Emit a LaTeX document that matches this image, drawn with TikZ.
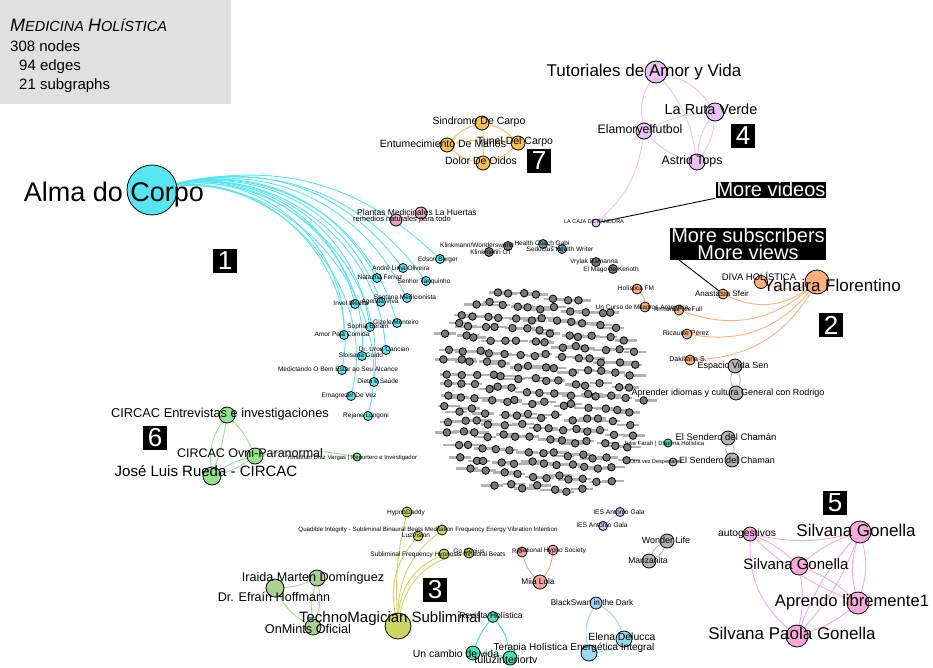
\documentclass[tikz,border=0pt]{standalone}
\usepackage{fontspec}
\setmainfont{Liberation Sans}
\usepackage{tikz}
\usetikzlibrary{calc}
\definecolor{cyanA}{HTML}{55E6F2}
\definecolor{salmonB}{HTML}{FFAF7A}
\definecolor{oliveC}{HTML}{CCD65E}
\definecolor{lilacD}{HTML}{EAC2F6}
\definecolor{pinkE}{HTML}{F9A8D9}
\definecolor{greenF}{HTML}{92E58E}
\definecolor{orangeG}{HTML}{F8BE4E}
\definecolor{mossH}{HTML}{A9D191}
\definecolor{redI}{HTML}{F2A0A0}
\definecolor{blueJ}{HTML}{9AD6F5}
\definecolor{tealK}{HTML}{46E2B6}
\definecolor{lavL}{HTML}{C9C3EE}
\definecolor{greyM}{HTML}{B4B4B4}
\definecolor{blobN}{HTML}{7A7A7A}
\definecolor{roseP}{HTML}{E6A6BE}
\definecolor{steelQ}{HTML}{5E98AE}
\pgfdeclarelayer{background}
\pgfdeclarelayer{foreground}
\pgfsetlayers{background,main,foreground}

\tikzset{
  vtx/.style={circle, draw=black, line width=0.8pt, inner sep=0pt, minimum size=#1},
  lbl/.style={inner sep=0pt, anchor=base, yshift={-0.36*#1}, font=\fontsize{#1}{#1}\selectfont},
  tag/.style={fill=black, text=white, inner sep=0pt, minimum width=24, minimum height=24, font=\fontsize{26}{26}\selectfont},
  note/.style={fill=black, text=white, inner xsep=1pt, inner ysep=0pt, align=center, font=\fontsize{20}{17}\selectfont},
  ed/.style={line width=0.9pt}
}

\begin{document}
\begin{tikzpicture}[x=1pt, y=-1pt]
    \useasboundingbox (0,0) rectangle (933,667);
    % LEGEND
    \fill[gray!24] (0,0) rectangle (231,104);
    \node[anchor=base west, inner sep=0pt, font=\itshape] (title) at (10,31) {\fontsize{18}{18}\selectfont M\fontsize{14.5}{14.5}\selectfont EDICINA \fontsize{18}{18}\selectfont H\fontsize{14.5}{14.5}\selectfont OLÍSTICA};
    \node[anchor=base west, inner sep=0pt, font=\fontsize{15}{15}\selectfont] (nnodes) at (10,51) {308 nodes};
    \node[anchor=base west, inner sep=0pt, font=\fontsize{15}{15}\selectfont] (nedges) at (19,70) {94 edges};
    \node[anchor=base west, inner sep=0pt, font=\fontsize{15}{15}\selectfont] (nsub) at (19,89) {21 subgraphs};

    % CENTRAL BLOB: LABEL SMUDGES
    \pgfmathsetseed{11}
    \foreach \r in {0,...,16}{
      \pgfmathsetmacro{\yy}{296+12*\r}
      \pgfmathsetmacro{\tt}{abs((\yy-392)/100)}
      \pgfmathsetmacro{\hw}{98*(max(0.01,1-\tt^3))^(1/3)}
      \pgfmathtruncatemacro{\nn}{2*\hw/14}
      \foreach \c in {0,...,\nn}{
        \pgfmathsetmacro{\xx}{543-\hw+14*\c+3*mod(\r,2)+4*rand}
        \pgfmathsetmacro{\yj}{\yy+2.5*rand+0.08*(\xx-543)}
        \pgfmathsetmacro{\ox}{5*rand}
        \fill[gray!60] (\xx+\ox-11,\yj-1.2) rectangle (\xx+\ox+11,\yj+1.2);
      }
    }
    % CENTRAL BLOB: NODES
    \pgfmathsetseed{11}
    \foreach \r in {0,...,16}{
      \pgfmathsetmacro{\yy}{296+12*\r}
      \pgfmathsetmacro{\tt}{abs((\yy-392)/100)}
      \pgfmathsetmacro{\hw}{98*(max(0.01,1-\tt^3))^(1/3)}
      \pgfmathtruncatemacro{\nn}{2*\hw/14}
      \foreach \c in {0,...,\nn}{
        \pgfmathsetmacro{\xx}{543-\hw+14*\c+3*mod(\r,2)+4*rand}
        \pgfmathsetmacro{\yj}{\yy+2.5*rand+0.08*(\xx-543)}
        \pgfmathsetmacro{\ox}{5*rand}
        \node[vtx=7.5, fill=blobN] (b\r-\c) at (\xx,\yj) {};
      }
    }

    % CLUSTER 1
    \foreach \n/\x/\y/\s/\lx/\ly/\f/\t in {
      alma/152/190/50/114/192/27/Alma do Corpo,
      edson/440/259/9/438/259/6.5/Edson Burger,
      andre/403/268/9/401/268/6.5/André Lima Oliveira,
      natasha/377/278/9/380/277/6.5/Natasha Ferraz,
      senhor/426/281/9/424/281/6.5/Senhor Tanquinho,
      santana/407/298/9/405/297/6.5/Santana Medicionista,
      invel/355/304/9/351/303/6.5/Invel Medita,
      agenda/381/302/9/380/301/6.5/Agenda Viva,
      gizele/397/323/9/396/322/6.5/Gizele Monteiro,
      sophia/370/327/9/368/326/6.5/Sophia Beram,
      amor/344/335/9/342/334/6.5/Amor Pela Comida,
      uron/386/350/9/384/349/6.5/Dr. Uron Cancian,
      sloisana/362/356/9/361/355/6.5/Sloisana Guido,
      medict/342/370/9/338/369/6.5/Medictando O Bem Estar ao Seu Alcance,
      dieta/374/382/9/378/381/6.5/Dieta e Saúde,
      emagrecer/351/396/9/349/395/6.5/Emagrecer De Vez,
      rejane/368/416/9/366/415/6.5/Rejane Longoni}{
      \node[vtx=\s, fill=cyanA] (\n) at (\x,\y) {};
      \begin{pgfonlayer}{foreground}
        \node[lbl=\f] (\n-l) at (\lx,\ly) {\t};
      \end{pgfonlayer}
    }
    % CLUSTER 2
    \foreach \n/\x/\y/\s/\lx/\ly/\f/\t in {
      yahaira/817/282/24/832/285/17/Yahaira Florentino,
      diva/761/282/13/759/277/9.5/DIVA HOLÍSTICA,
      anast/723/294/10/722/294/8/Anastasia Sfeir,
      armonia/679/310/10/678/309/6.5/ArmoniaFreeFull,
      curso/645/307/10/642/307/6.5/Un Curso de Milagros Argentina,
      holfm/637/289/10/636/288/6.5/Holística FM,
      ricaurte/687/334/10/686/333/7/Ricaurte Pérez,
      daki/690/360/10/688/359/7/Dakiliana S.}{
      \node[vtx=\s, fill=salmonB] (\n) at (\x,\y) {};
      \begin{pgfonlayer}{foreground}
        \node[lbl=\f] (\n-l) at (\lx,\ly) {\t};
      \end{pgfonlayer}
    }
    % CLUSTER 3
    \foreach \n/\x/\y/\s/\lx/\ly/\f/\t in {
      techno/398/626/26/390/617/15/TechnoMagician Subliminal,
      hypno/407/512/10/406/512/6.5/HypnoDaddy,
      quad/442/530/10/428/529/6.2/Quadible Integrity - Subliminal Binaural Beats Meditation Frequency Energy Vibration Intention,
      luz/418/536/10/416/535/6.5/LuzVision,
      sublim/444/554/10/438/554/6.5/Subliminal Frequency Hypnosis Binaural Beats,
      genius/469/553/10/469/551/6.5/Go Genius}{
      \node[vtx=\s, fill=oliveC] (\n) at (\x,\y) {};
      \begin{pgfonlayer}{foreground}
        \node[lbl=\f] (\n-l) at (\lx,\ly) {\t};
      \end{pgfonlayer}
    }
    % CLUSTER 4
    \foreach \n/\x/\y/\s/\lx/\ly/\f/\t in {
      tutor/656/72/22/644/70/17/Tutoriales de Amor y Vida,
      ruta/715/112/18/711/109/14.5/La Ruta Verde,
      elamor/644/131/16/640/129/12.3/Elamoryelfutbol,
      astrid/697/162/16/692/160/12.3/Astrid Tops,
      caja/596/223/8/594/222/5.5/LA CAJA DE PANDORA}{
      \node[vtx=\s, fill=lilacD] (\n) at (\x,\y) {};
      \begin{pgfonlayer}{foreground}
        \node[lbl=\f] (\n-l) at (\lx,\ly) {\t};
      \end{pgfonlayer}
    }
    % CLUSTER 5
    \foreach \n/\x/\y/\s/\lx/\ly/\f/\t in {
      autog/750/534/14/747/533/10.3/autogestivos,
      sg1/860/532/22/856/530/17/Silvana Gonella,
      sg2/799/566/18/796/564/15/Silvana Gonella,
      aprendo/858/603/22/852/601/16.6/Aprendo libremente1,
      spg/797/636/22/792/633/17/Silvana Paola Gonella}{
      \node[vtx=\s, fill=pinkE] (\n) at (\x,\y) {};
      \begin{pgfonlayer}{foreground}
        \node[lbl=\f] (\n-l) at (\lx,\ly) {\t};
      \end{pgfonlayer}
    }
    % CLUSTER 6
    \foreach \n/\x/\y/\s/\lx/\ly/\f/\t in {
      entrev/227/415/16/220/413/12.8/CIRCAC Entrevistas e investigaciones,
      ovni/255/456/16/250/453/12.5/CIRCAC Ovni-Paranormal,
      jose/212/476/18/206/471/15/José Luis Rueda - CIRCAC,
      yonathan/357/457/8/352/457/6/Yonathan Díaz Vargas | Reportero e Investigador}{
      \node[vtx=\s, fill=greenF] (\n) at (\x,\y) {};
      \begin{pgfonlayer}{foreground}
        \node[lbl=\f] (\n-l) at (\lx,\ly) {\t};
      \end{pgfonlayer}
    }
    % CLUSTER 7
    \foreach \n/\x/\y/\s/\lx/\ly/\f/\t in {
      sindrome/482/123/14/479/121/10.5/Sindrome De Carpo,
      tunel/518/143/14/515/141/10.5/Tunel Del Carpo,
      entum/447/145/14/443/144/10.5/Entumecimiento De Manos,
      dolor/483/163/14/481/161/10.5/Dolor De Oidos}{
      \node[vtx=\s, fill=orangeG] (\n) at (\x,\y) {};
      \begin{pgfonlayer}{foreground}
        \node[lbl=\f] (\n-l) at (\lx,\ly) {\t};
      \end{pgfonlayer}
    }
    % SMALL GROUPS
    \foreach \n/\x/\y/\s/\c/\lx/\ly/\f/\t in {
      iraida/317/578/16/mossH/313/577/12.6/Iraida Marten Domínguez,
      efrain/275/588/18/mossH/274/597/12.6/Dr. Efraín Hoffmann,
      onmints/313/627/16/mossH/308/629/12.7/OnMints Oficial,
      miia/540/582/14/redI/538/581/8.3/Miia Lola,
      rio/522/552/10/redI/517/551/6.5/Rio,
      natsoc/553/550/10/redI/552/550/6.5/National Hypno Society,
      ies1/620/512/9/lavL/619/512/6.7/IES Antonio Gala,
      ies2/603/526/9/lavL/602/525/6.7/IES Antonio Gala,
      swan/596/603/12/blueJ/592/603/8.2/BlackSwan in the Dark,
      elena/624/639/16/blueJ/622/637/10.4/Elena Delucca,
      terapia/589/653/16/blueJ/574/647/10/Terapia Holística Energética Integral,
      revista/493/617/11/tealK/491/615/8.5/Revista Holística,
      cambio/473/653/14/tealK/456/654/10.4/Un cambio de vida,
      tuluz/510/658/14/tealK/506/660/10.6/tuluzinteriortv,
      julia/668/443/8/tealK/664/443/6/Julia Farah | Dharma Holística,
      plantas/421/213/12/roseP/417/212/8.5/Plantas Medicinales La Huertas,
      remedios/396/220/12/roseP/402/219/7.5/remedios naturales para todo,
      espacio/735/366/14/greyM/733/365/9/Espacio Vida Sen,
      aprender/736/393/14/greyM/728/392/9/Aprender idiomas y cultura General con Rodrigo,
      senderoA/728/438/14/greyM/726/437/9.5/El Sendero del Chamán,
      senderoB/732/460/14/greyM/727/460/9/El Sendero del Chaman,
      otra/673/462/8/greyM/656/462/5.5/Otra vez Despertares,
      wonder/667/541/14/greyM/666/540/9/Wonder Life,
      manz/649/561/14/greyM/648/560/8.5/Manzanita,
      klink/508/246/9/blobN/477/245/6.5/{Klinkmann/Wondersworld},
      klinkot/489/252/9/blobN/491/252/6.5/Klinkmann OT,
      coach/543/244/9/steelQ/542/243/6.5/Health Coach Gabi,
      writer/562/249/9/steelQ/560/249/6.5/Seductus Health Writer,
      vrylak/596/262/9/blobN/594/261/6.5/Vrylak Ramanna,
      mago/613/269/9/blobN/611/269/6.5/El Mago de Kerioth}{
      \node[vtx=\s, fill=\c] (\n) at (\x,\y) {};
      \begin{pgfonlayer}{foreground}
        \node[lbl=\f] (\n-l) at (\lx,\ly) {\t};
      \end{pgfonlayer}
    }

    % CLUSTER TAGS
    \node[tag] (tag1) at (225,261) {1};
    \node[tag] (tag2) at (831,325) {2};
    \node[tag] (tag3) at (435,590) {3};
    \node[tag] (tag4) at (743,136) {4};
    \node[tag] (tag5) at (835,503) {5};
    \node[tag] (tag6) at (155,438) {6};
    \node[tag] (tag7) at (539,161) {7};

    % NOTES
    \node[note, text height=14, text depth=2] (videos) at (771,190) {More videos};
    \node[note] (subs) at (748,244) {More subscribers\\More views};
    \draw[line width=0.9pt] (caja) -- (videos.south west);
    \draw[line width=0.9pt] (anast) -- ([xshift=9pt]subs.south west);

    % EDGES
    \begin{pgfonlayer}{background}
    \foreach \t/\b in {edson/28, andre/33, natasha/36, senhor/33, santana/38, invel/43, agenda/40, gizele/43, sophia/46, amor/50, uron/48, sloisana/52, medict/54, dieta/53, emagrecer/55, rejane/55}
      \draw[ed, cyanA] (alma) to[bend left=\b] (\t);
    \foreach \t/\b in {diva/20, anast/30, armonia/30, ricaurte/30, daki/28}
      \draw[ed, salmonB] (yahaira) to[bend left=\b] (\t);
    \draw[ed, salmonB] (holfm) to[bend left=20] (curso);
    \foreach \t/\b in {hypno/8, quad/25, luz/25, sublim/30, genius/35}
      \draw[ed, oliveC] (techno) to[bend left=\b] (\t);
    \draw[ed, lilacD] (tutor) to[bend right=20] (elamor);
    \draw[ed, lilacD] (tutor) to[bend left=15] (astrid);
    \draw[ed, lilacD] (tutor) to[bend left=20] (ruta);
    \draw[ed, lilacD] (elamor) to[bend left=10] (ruta);
    \draw[ed, lilacD] (elamor) to[bend right=15] (astrid);
    \draw[ed, lilacD] (ruta) to[bend left=15] (astrid);
    \draw[ed, lilacD] (ruta) to[bend right=15] (astrid);
    \draw[ed, lilacD] (elamor) to[bend left=20] (caja);
    \draw[ed, pinkE] (autog) to[bend right=12] (sg1);
    \draw[ed, pinkE] (autog) to[bend left=10] (sg2);
    \draw[ed, pinkE] (autog) to[bend right=10] (aprendo);
    \draw[ed, pinkE] (autog) to[bend right=25] (spg);
    \draw[ed, pinkE] (sg1) to[bend right=10] (sg2);
    \draw[ed, pinkE] (sg1) to[bend left=15] (aprendo);
    \draw[ed, pinkE] (sg1) to[bend right=15] (aprendo);
    \draw[ed, pinkE] (sg1) to[bend left=10] (spg);
    \draw[ed, pinkE] (sg1) to[bend right=10] (spg);
    \draw[ed, pinkE] (sg2) to[bend left=10] (aprendo);
    \draw[ed, pinkE] (sg2) to[bend left=10] (spg);
    \draw[ed, pinkE] (aprendo) to[bend left=10] (spg);
    \draw[ed, greenF] (entrev) to[bend left=10] (ovni);
    \draw[ed, greenF] (entrev) to[bend right=20] (jose);
    \draw[ed, greenF] (entrev) to[bend left=5] (jose);
    \draw[ed, greenF] (ovni) to[bend left=10] (jose);
    \draw[ed, greenF] (ovni) to[bend right=10] (jose);
    \draw[ed, greenF] (ovni) to[bend left=10] (yonathan);
    \draw[ed, orangeG] (sindrome) to[bend left=15] (tunel);
    \draw[ed, orangeG] (sindrome) to[bend right=15] (entum);
    \draw[ed, orangeG] (sindrome) to[bend left=5] (dolor);
    \draw[ed, orangeG] (entum) to[bend left=10] (tunel);
    \draw[ed, orangeG] (entum) to[bend right=15] (dolor);
    \draw[ed, orangeG] (tunel) to[bend left=15] (dolor);
    \draw[ed, mossH] (iraida) to[bend left=10] (efrain);
    \draw[ed, mossH] (iraida) to[bend left=15] (onmints);
    \draw[ed, mossH] (iraida) to[bend right=10] (onmints);
    \draw[ed, mossH] (efrain) to[bend right=15] (onmints);
    \draw[ed, redI] (miia) to[bend left=15] (rio);
    \draw[ed, redI] (miia) to[bend right=15] (natsoc);
    \draw[ed, blueJ] (swan) to[bend left=20] (elena);
    \draw[ed, blueJ] (swan) to[bend right=20] (terapia);
    \draw[ed, blueJ] (elena) to[bend left=15] (terapia);
    \draw[ed, tealK] (revista) to[bend right=10] (cambio);
    \draw[ed, tealK] (revista) to[bend left=15] (tuluz);
    \draw[ed, tealK] (cambio) to[bend left=5] (tuluz);
    \draw[ed, lavL] (ies1) -- (ies2);
    \draw[ed, roseP] (plantas) -- (remedios);
    \draw[ed, greyM] (klink) -- (klinkot);
    \draw[ed, steelQ] (coach) -- (writer);
    \draw[ed, greyM] (espacio) to[bend left=25] (aprender);
    \draw[ed, greyM] (espacio) to[bend right=25] (aprender);
    \draw[ed, greyM] (senderoA) to[bend left=25] (senderoB);
    \draw[ed, greyM] (senderoA) to[bend right=25] (senderoB);
    \draw[ed, greyM] (wonder) to[bend left=20] (manz);
    \draw[ed, greyM] (wonder) to[bend right=20] (manz);
    \end{pgfonlayer}
\end{tikzpicture}
\end{document}
